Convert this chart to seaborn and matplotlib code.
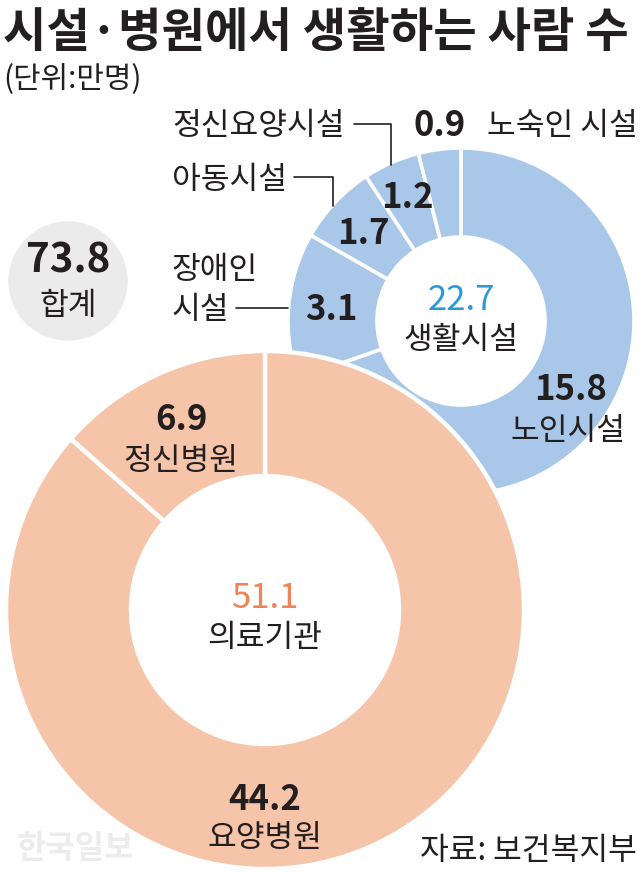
import matplotlib
matplotlib.use("Agg")
import matplotlib.pyplot as plt
import seaborn as sns
from matplotlib.patches import Circle

sns.set_theme(style="white")
plt.rcParams['font.family'] = ['Noto Sans CJK KR', 'DejaVu Sans']

# ---- data ----
living_labels = ['노인시설', '장애인 시설', '아동시설', '정신요양시설', '노숙인 시설']
living_values = [15.8, 3.1, 1.7, 1.2, 0.9]
medical_labels = ['요양병원', '정신병원']
medical_values = [44.2, 6.9]
living_title = '생활시설'
medical_title = '의료기관'
total_title = '합계'
title = '시설·병원에서 생활하는 사람 수'
unit = '(단위:만명)'
source = '자료: 보건복지부'

W, H = 640, 876
BLUE = '#a9c8e9'
ORANGE = '#f6c4a8'
DARK = '#231f20'
BLUE_TXT = '#2a9ad6'
ORANGE_TXT = '#f08456'
LAB = 22.5
NUM = 25

fig = plt.figure(figsize=(W / 100, H / 100), dpi=100)
ax = fig.add_axes([0, 0, 1, 1])


def Y(py):
    return H - py


def txt(x, y, s, size, weight='normal', color=DARK, ha='center', **kw):
    ax.text(x, Y(y), s, fontsize=size, fontweight=weight, color=color,
            ha=ha, va='center', **kw)


# ---- living facilities donut (blue) ----
bc = (461, Y(321))
bR, br = 173, 84
ax.pie(living_values, startangle=90, counterclock=False, radius=bR, center=bc,
       colors=[BLUE] * len(living_values),
       wedgeprops=dict(width=bR - br, edgecolor='white', linewidth=2.6))

# ---- medical donut (orange) ----
oc = (265, Y(610))
oR, orr = 259, 134
ax.pie(medical_values, startangle=90, counterclock=False, radius=oR, center=oc,
       colors=[ORANGE] * len(medical_values),
       wedgeprops=dict(width=oR - orr, edgecolor='white', linewidth=3.2))

ax.set_xlim(0, W)
ax.set_ylim(0, H)
ax.set_aspect('equal')
ax.axis('off')

# ---- total circle ----
ax.add_patch(Circle((68, Y(281)), 59, color='#ebebeb', zorder=1))
total = sum(living_values) + sum(medical_values)
txt(68, 261, f'{total:.1f}', 29, 'bold')
txt(68, 306, total_title, LAB)

# ---- titles ----
ax.text(3, Y(33), title, fontsize=34, fontweight='bold', color=DARK,
        ha='left', va='center')
ax.text(3, Y(80), unit, fontsize=21.5, color=DARK, ha='left', va='center')

# ---- blue labels ----
txt(461, 300, f'{sum(living_values):.1f}', NUM, color=BLUE_TXT)
txt(461, 340, living_title, LAB)

txt(571, 389, f'{living_values[0]:.1f}', NUM, 'bold')
txt(568, 431, living_labels[0], LAB)

txt(331, 310, f'{living_values[1]:.1f}', NUM, 'bold')
txt(172, 270, living_labels[1].split(' ')[0], LAB, ha='left')
txt(172, 310, living_labels[1].split(' ')[1], LAB, ha='left')
ax.plot([236, 288], [Y(308), Y(308)], color=DARK, lw=1.2)

txt(363, 233, f'{living_values[2]:.1f}', NUM, 'bold')
txt(172, 180, living_labels[2], LAB, ha='left')
ax.plot([294, 333, 333], [Y(177), Y(177), Y(206)], color=DARK, lw=1.2)

txt(407, 197, f'{living_values[3]:.1f}', NUM, 'bold')
txt(172, 126, living_labels[3], LAB, ha='left')
ax.plot([354, 391, 391], [Y(124), Y(124), Y(165)], color=DARK, lw=1.2)

txt(440, 126, f'{living_values[4]:.1f}', NUM, 'bold')
txt(487, 126, living_labels[4], LAB, ha='left')

# ---- orange labels ----
txt(265, 598, f'{sum(medical_values):.1f}', NUM, color=ORANGE_TXT)
txt(265, 638, medical_title, LAB)

txt(265, 800, f'{medical_values[0]:.1f}', NUM, 'bold')
txt(265, 838, medical_labels[0], LAB)

txt(181, 420, f'{medical_values[1]:.1f}', NUM, 'bold')
txt(181, 461, medical_labels[1], LAB)

# ---- footer ----
txt(637, 851, source, LAB, ha='right')
txt(76, 849, '한국일보', 23, 'bold', color='#ececec')

fig.savefig('out.png', dpi=100)
